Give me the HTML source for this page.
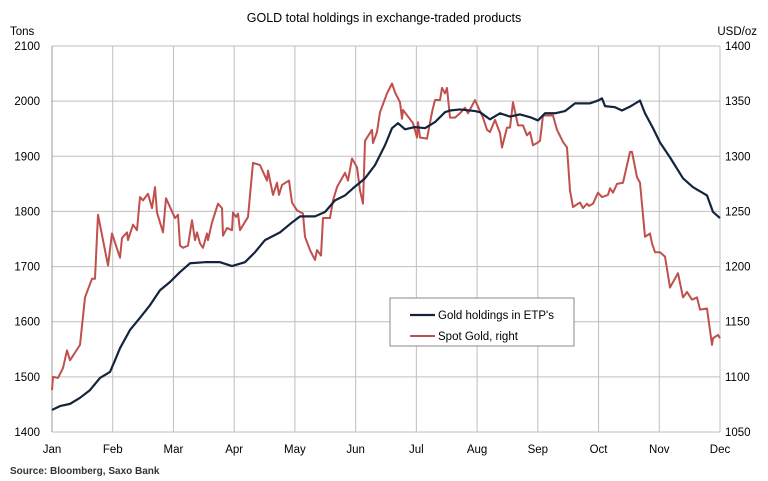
<!DOCTYPE html>
<html><head><meta charset="utf-8"><style>
body{margin:0;background:#fff;}
svg{display:block;font-family:"Liberation Sans",sans-serif;}
</style></head><body>
<svg id="chart" width="768" height="481">
<text x="384" y="22" text-anchor="middle" font-size="12.5" fill="#000">GOLD total holdings in exchange-traded products</text>
<text x="10" y="35" font-size="11.5">Tons</text>
<text x="757" y="35" text-anchor="end" font-size="11.5">USD/oz</text>
<text x="10" y="474" font-size="10" font-weight="bold" fill="#333">Source: Bloomberg, Saxo Bank</text>
<g id="grid"></g><g id="axes"></g><g id="series"></g>
<g>
<rect x="390" y="298" width="184" height="48" fill="#fff" stroke="#888"/>
<line x1="410" y1="315" x2="435" y2="315" stroke="#14243d" stroke-width="2.2"/>
<text x="438" y="319" font-size="11.5">Gold holdings in ETP's</text>
<line x1="410" y1="336" x2="435" y2="336" stroke="#c0504d" stroke-width="2"/>
<text x="438" y="340" font-size="11.5">Spot Gold, right</text>
</g>
</svg>
<script>
const months=["Jan","Feb","Mar","Apr","May","Jun","Jul","Aug","Sep","Oct","Nov","Dec"];
const leftTicks=[1400,1500,1600,1700,1800,1900,2000,2100];
const rightTicks=[1050,1100,1150,1200,1250,1300,1350,1400];
const holdDays=[0,4,9,14,19,24,29,31.5,34,39,44,49,54,59,64,69,76.5,84,90,96.5,101.5,106.5,114,120,124,131.5,136.5,141.5,146.5,150.5,156.5,161.5,166.5,170,173,176.5,181.5,186.5,191.5,196.5,199,204,211.5,214,219,224,229,234,239,243,246.5,251.5,256.5,261.5,269,273,275,276.5,281.5,285,289,294,296.5,300.5,304,309,315.5,320.5,327.5,330.5,334];
const holdVals=[1440,1447,1451,1462,1476,1498,1509,1530,1552,1585,1607,1630,1657,1672,1690,1706,1708,1708,1701,1708,1726,1748,1762,1780,1791,1791,1799,1820,1829,1842,1860,1884,1920,1951,1960,1949,1953,1951,1962,1980,1983,1985,1982,1980,1967,1978,1972,1976,1971,1965,1978,1978,1982,1996,1996,2001,2005,1991,1989,1983,1990,2001,1978,1951,1925,1898,1860,1844,1829,1799,1788];
const spotX=[52,53,58,63,67,70,80,85,92,95,98,108,112,120,122,127,128,133,137,140,143,148,152,155,157,163,166,175,178,180,183,188,192,195,197,200,203,207,208,212,218,222,223,227,232,233,236,238,240,248,253,260,267,268,273,277,279,282,289,292,297,303,305,310,315,317,321,323,330,333,337,345,348,352,357,360,363,365,372,373,377,380,387,392,395,400,402,403,413,417,418,420,427,432,435,440,442,445,447,450,455,460,465,468,475,483,487,490,495,500,502,507,510,513,518,523,527,530,533,537,540,543,553,557,563,567,570,573,578,580,583,587,589,593,598,602,608,610,613,617,623,630,632,637,640,645,650,652,655,660,665,670,678,683,687,692,697,700,707,712,713,718,720];
const spotDays=spotX.map(v=>(v-52)/2);
const spotVals=[1088,1100,1099,1108,1124,1115,1129,1172,1189,1189,1247,1201,1230,1208,1226,1231,1224,1238,1233,1263,1260,1266,1253,1272,1249,1231,1262,1244,1247,1219,1217,1219,1242,1224,1231,1221,1217,1230,1224,1240,1257,1253,1228,1235,1233,1249,1245,1248,1233,1245,1294,1292,1278,1287,1265,1276,1265,1274,1278,1258,1251,1248,1227,1215,1206,1215,1210,1244,1244,1260,1272,1285,1278,1298,1290,1269,1257,1314,1324,1312,1322,1340,1357,1366,1358,1349,1334,1342,1330,1317,1331,1317,1316,1340,1351,1351,1362,1357,1362,1335,1335,1339,1344,1339,1351,1335,1324,1322,1333,1321,1308,1326,1326,1349,1328,1328,1319,1322,1310,1312,1314,1337,1337,1324,1313,1308,1269,1254,1257,1258,1253,1257,1255,1257,1267,1263,1265,1271,1267,1275,1276,1304,1304,1281,1276,1227,1230,1221,1213,1213,1209,1181,1194,1172,1177,1170,1172,1161,1162,1129,1135,1138,1135];
const X0=52,X1=720,Y0=432,Y1=46,DMAX=334;
const xs=d=>X0+d/DMAX*(X1-X0);
const yl=v=>Y0-(v-1400)/700*(Y0-Y1);
const yr=v=>Y0-(v-1050)/350*(Y0-Y1);
const NS="http://www.w3.org/2000/svg";
function mk(t,a,p){const e=document.createElementNS(NS,t);for(const k in a)e.setAttribute(k,a[k]);p.appendChild(e);return e;}
const grid=document.getElementById('grid'),axes=document.getElementById('axes'),ser=document.getElementById('series');
leftTicks.forEach((v,i)=>{
 const y=yl(v);
 const l=mk('line',{x1:X0,x2:X1,y1:y,y2:y,stroke:'#bfbfbf','stroke-width':1},grid);
 
 
 const t=mk('text',{x:40,y:y+4,'text-anchor':'end','font-size':11.5},axes);t.textContent=v;
 
 
 const r=mk('text',{x:725,y:yr(rightTicks[i])+4,'font-size':11.5},axes);r.textContent=rightTicks[i];
 
 
});
months.forEach((m,i)=>{
 const x=X0+i*(X1-X0)/11;
 const l=mk('line',{x1:x,x2:x,y1:Y1,y2:Y0,stroke:'#bfbfbf','stroke-width':1},grid);
 
 
 const t=mk('text',{x:x,y:453,'text-anchor':'middle','font-size':11.5},axes);t.textContent=m;
 
 
});
const ax=mk('line',{x1:X0,x2:X0,y1:Y1,y2:Y0,stroke:'#999'},axes);


const sp=mk('polyline',{points:spotDays.map((d,i)=>xs(d)+','+yr(spotVals[i])).join(' '),fill:'none',stroke:'#c0504d','stroke-width':2,'stroke-linejoin':'round'},ser);


const hl=mk('polyline',{points:holdDays.map((d,i)=>xs(d)+','+yl(holdVals[i])).join(' '),fill:'none',stroke:'#14243d','stroke-width':2.2,'stroke-linejoin':'round'},ser);


</script>
</body></html>
